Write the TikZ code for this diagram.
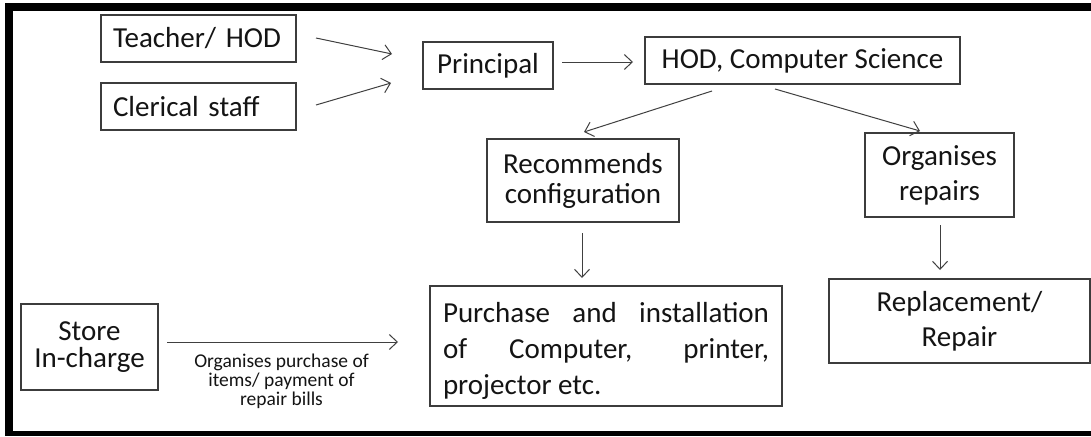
\documentclass[tikz,border=0pt]{standalone}
\usepackage{fontspec}
\setmainfont{Carlito}
\usetikzlibrary{arrows.meta}
\definecolor{boxgray}{HTML}{3C3C3C}
\definecolor{arrgray}{HTML}{404040}
\definecolor{txt}{HTML}{141414}
\begin{document}
\begin{tikzpicture}[x=1pt,y=-1pt,
  box/.style={draw=boxgray, line width=1.1pt, inner sep=0pt, align=center, text=txt},
  big/.style={font=\fontsize{29}{35}\selectfont},
  conn/.style={draw=arrgray, line width=1pt, -{Straight Barb[length=8pt,width=15pt]}},
]
\useasboundingbox (0,0) rectangle (1091,436);
\fill[white] (0,0) rectangle (1091,436);
% frame
\fill[black] (5,3) rectangle (13,436);
\fill[black] (5,3) rectangle (1091,11);
\fill[black] (5,431) rectangle (1091,436);

% nodes
\node[box, big, minimum width=195pt, minimum height=47pt, text width=171pt, align=left] (teacher) at (198.5,38.5) {Teacher/ HOD};
\node[box, big, minimum width=195pt, minimum height=47pt, text width=171pt, align=left] (clerical) at (198.5,106.5) {Clerical staff};
\node[box, big, minimum width=130pt, minimum height=47pt] (principal) at (488,65.5) {Principal};
\node[box, big, minimum width=315pt, minimum height=47pt] (hod) at (802.5,60.5) {HOD, Computer Science};
\node[box, font=\fontsize{29}{30}\selectfont, minimum width=192pt, minimum height=83pt] (recommends) at (583,180.5) {Recommends\\configuration};
\node[box, font=\fontsize{29}{35}\selectfont, minimum width=149pt, minimum height=84pt] (organises) at (939.5,175) {Organises\\repairs};
\node[box, font=\fontsize{29}{36}\selectfont, minimum width=352pt, minimum height=120pt, align=left] (purchase) at (606,346)
  {\rule{0pt}{30pt}\makebox[326pt][s]{Purchase and installation}\\\makebox[326pt][s]{of Computer, printer,}\\projector etc.};
\node[box, font=\fontsize{29}{35}\selectfont, minimum width=261pt, minimum height=84pt] (replacement) at (959.5,321) {Replacement/\\Repair};
\node[box, font=\fontsize{29}{27}\selectfont, minimum width=137pt, minimum height=86pt] (store) at (89.5,347) {Store\\In-charge};
\node[align=center, inner sep=0pt, text=txt, font=\fontsize{19.5}{19}\selectfont] (lbl) at (281.5,381) {Organises purchase of\\items/ payment of\\repair bills};

% connector end points
\coordinate (t1) at (316,38);   \coordinate (t2) at (392,54);
\coordinate (c1) at (316,105);  \coordinate (c2) at (391,83);
\coordinate (p1) at (562,62);   \coordinate (p2) at (633,62);
\coordinate (h1) at (712,91);   \coordinate (h2) at (584,132);
\coordinate (h3) at (775,89);   \coordinate (h4) at (920,131);
\coordinate (r1) at (582,233);  \coordinate (r2) at (582,278);
\coordinate (o1) at (940,225);  \coordinate (o2) at (940,270);
\coordinate (s1) at (167,342);  \coordinate (s2) at (398,342);

\draw[conn] (t1) -- (t2);
\draw[conn] (c1) -- (c2);
\draw[conn] (p1) -- (p2);
\draw[conn] (h1) -- (h2);
\draw[conn] (h3) -- (h4);
\draw[conn] (r1) -- (r2);
\draw[conn] (o1) -- (o2);
\draw[conn] (s1) -- (s2);
\end{tikzpicture}
\end{document}
